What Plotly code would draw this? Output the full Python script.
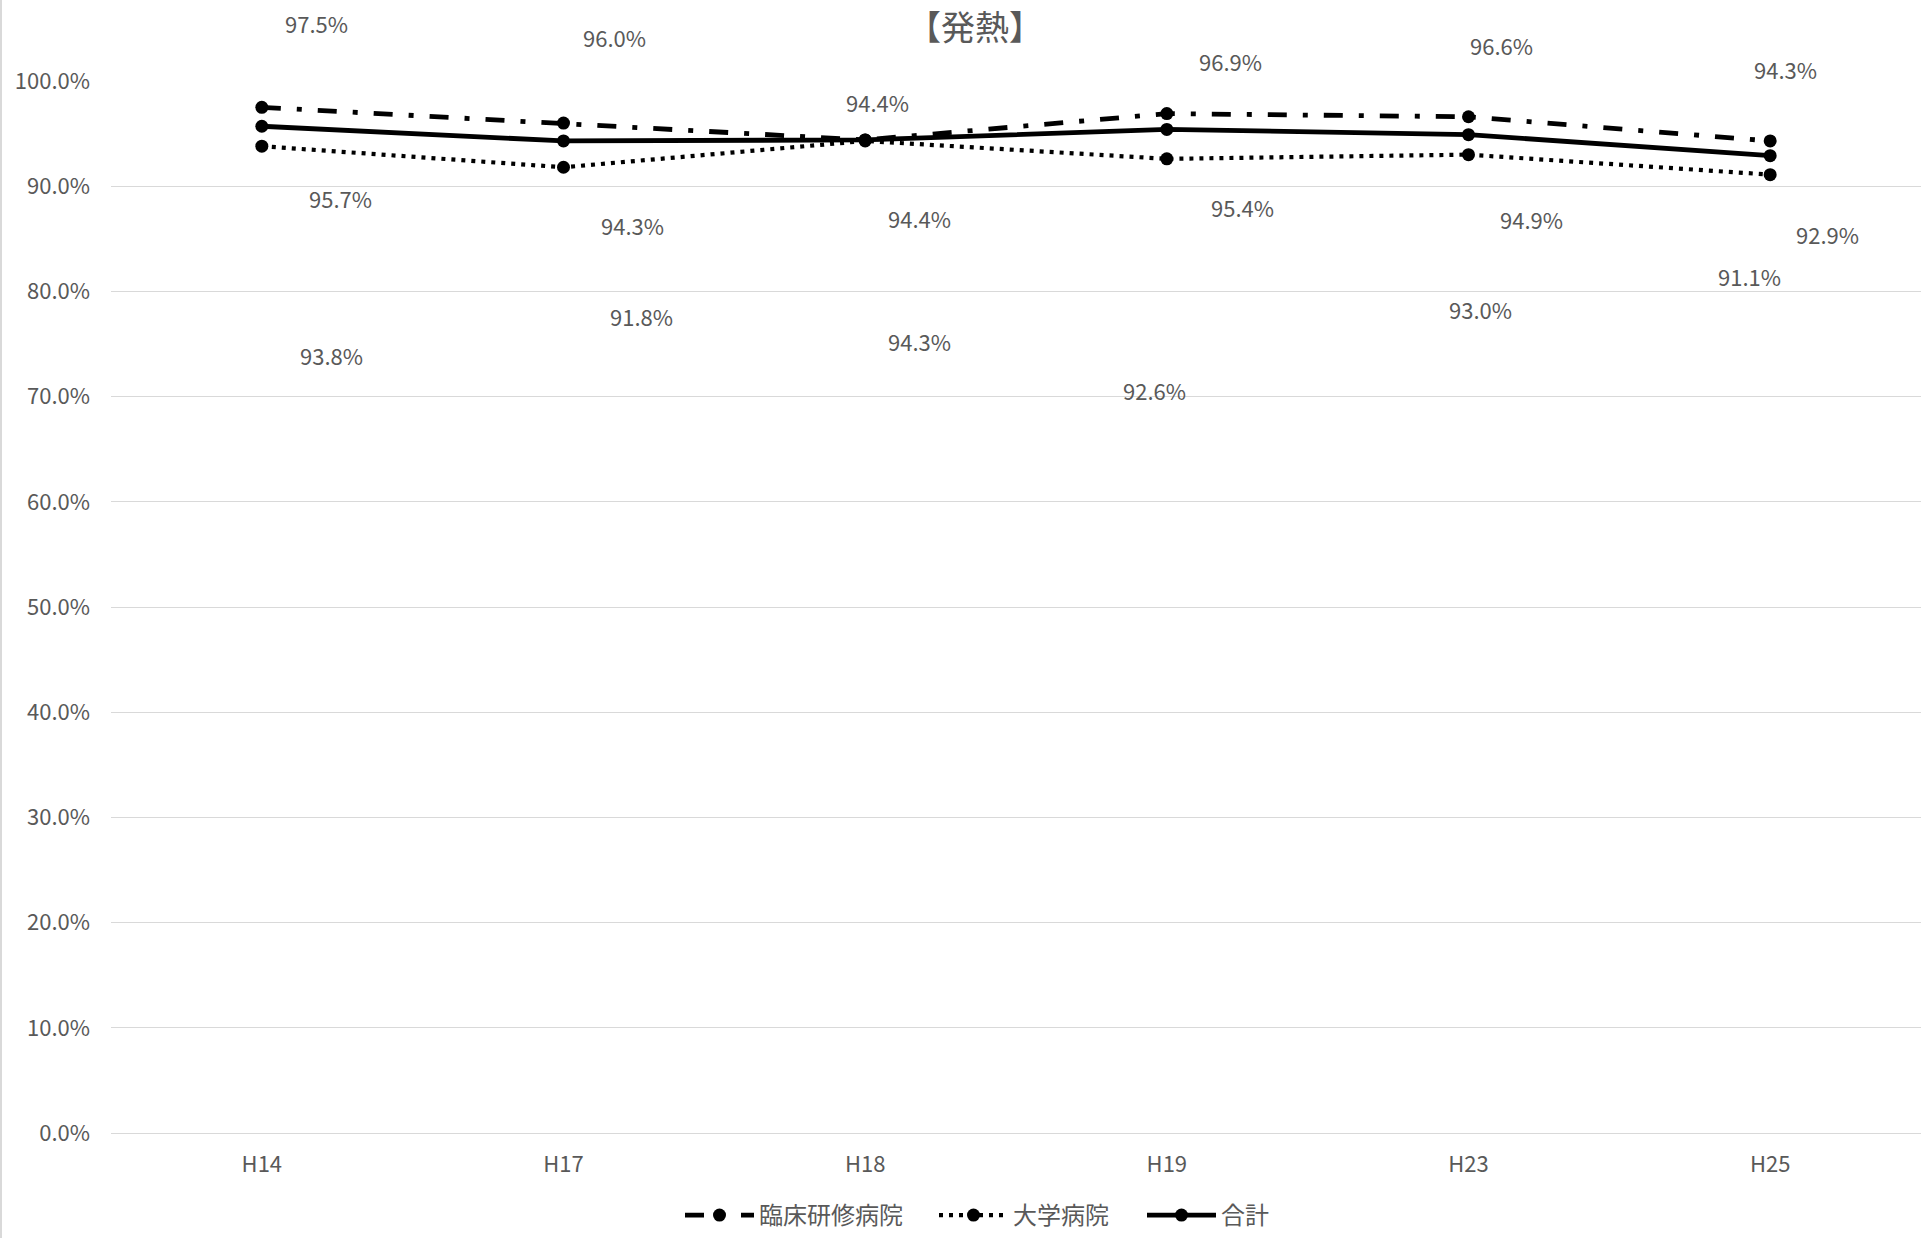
import plotly.graph_objects as go

categories = ["H14", "H17", "H18", "H19", "H23", "H25"]
rinsho = [0.975, 0.960, 0.944, 0.969, 0.966, 0.943]
daigaku = [0.938, 0.918, 0.943, 0.926, 0.930, 0.911]
goukei = [0.957, 0.943, 0.944, 0.954, 0.949, 0.929]
series_names = ["臨床研修病院", "大学病院", "合計"]
title_text = "【発熱】"

# label placement (category offset, y position as plot fraction) -- layout only
rinsho_lbl = [(0.18, 1.055), (0.17, 1.042), (0.04, 0.980), (0.21, 1.019), (0.11, 1.034), (0.05, 1.011)]
goukei_lbl = [(0.26, 0.889), (0.23, 0.863), (0.18, 0.870), (0.25, 0.880), (0.21, 0.869), (0.19, 0.855)]
daigaku_lbl = [(0.23, 0.740), (0.26, 0.777), (0.18, 0.753), (-0.04, 0.706), (0.04, 0.783), (-0.07, 0.815)]

W, H = 1921, 1238
ML, MR, MT, MB = 111, 0, 81, 105
PW, PH = W - ML - MR, H - MT - MB

FONT = "Noto Sans CJK JP, Noto Sans, sans-serif"
GRAY = "#595959"

legend_starts = [688, 942, 1150]  # page x of each legend entry

fig = go.Figure()
styles = [
    (rinsho, series_names[0], "19px,16px,5px,16px", 4.8),
    (daigaku, series_names[1], "4px,6px", 4.2),
    (goukei, series_names[2], "solid", 4.8),
]
legend_ids = ["legend", "legend2", "legend3"]
for k, (vals, name, dash, w) in enumerate(styles):
    fig.add_trace(go.Scatter(
        x=categories, y=vals, name=name, mode="lines+markers",
        line=dict(color="black", width=w, dash=dash),
        marker=dict(color="black", size=13, symbol="circle"),
        cliponaxis=False, legend=legend_ids[k],
    ))

annotations = []
for vals, lbl in [(rinsho, rinsho_lbl), (goukei, goukei_lbl), (daigaku, daigaku_lbl)]:
    for i, v in enumerate(vals):
        dx, yy = lbl[i]
        annotations.append(dict(
            x=i + dx, y=yy, xref="x", yref="paper", text=f"{v*100:.1f}%",
            showarrow=False, xanchor="center", yanchor="middle",
            font=dict(family=FONT, size=22, color=GRAY),
        ))
annotations.append(dict(
    x=(975 - ML) / PW, y=(H - MB - 26) / PH, xref="paper", yref="paper",
    text=title_text, showarrow=False, xanchor="center", yanchor="middle",
    font=dict(family=FONT, size=34, color=GRAY),
))

leg_common = dict(
    orientation="h", xanchor="left", yanchor="middle",
    y=(H - MB - 1216) / PH,
    font=dict(family=FONT, size=24, color=GRAY),
    itemwidth=69, bgcolor="rgba(0,0,0,0)", borderwidth=0,
)
legends = {}
for k, lid in enumerate(legend_ids):
    legends[lid] = dict(leg_common, x=(legend_starts[k] - ML - 8) / PW)

fig.update_layout(
    width=W, height=H,
    margin=dict(l=ML, r=MR, t=MT, b=MB, pad=0),
    paper_bgcolor="white", plot_bgcolor="white",
    font=dict(family=FONT, size=22, color=GRAY),
    showlegend=True,
    annotations=annotations,
    shapes=[dict(type="line", xref="paper", yref="paper",
                 x0=-(ML - 1) / PW, x1=-(ML - 1) / PW,
                 y0=-MB / PH, y1=1 + MT / PH,
                 line=dict(color="#d9d9d9", width=2))],
    **legends,
)
fig.update_xaxes(
    type="category", range=[-0.5, 5.5], showgrid=False, showline=False,
    zeroline=False, ticks="", ticklabelstandoff=16,
    tickfont=dict(family=FONT, size=22, color=GRAY),
)
fig.update_yaxes(
    range=[0, 1], dtick=0.1, tickformat=".1%", showgrid=True,
    gridcolor="#d9d9d9", gridwidth=1.3, zeroline=True, zerolinecolor="#d9d9d9",
    zerolinewidth=1.3, showline=False, ticks="", ticklabelstandoff=20,
    tickfont=dict(family=FONT, size=22, color=GRAY),
)

fig.write_html("out.html", config={"displayModeBar": False},
               post_script="document.body.style.margin='0';")
